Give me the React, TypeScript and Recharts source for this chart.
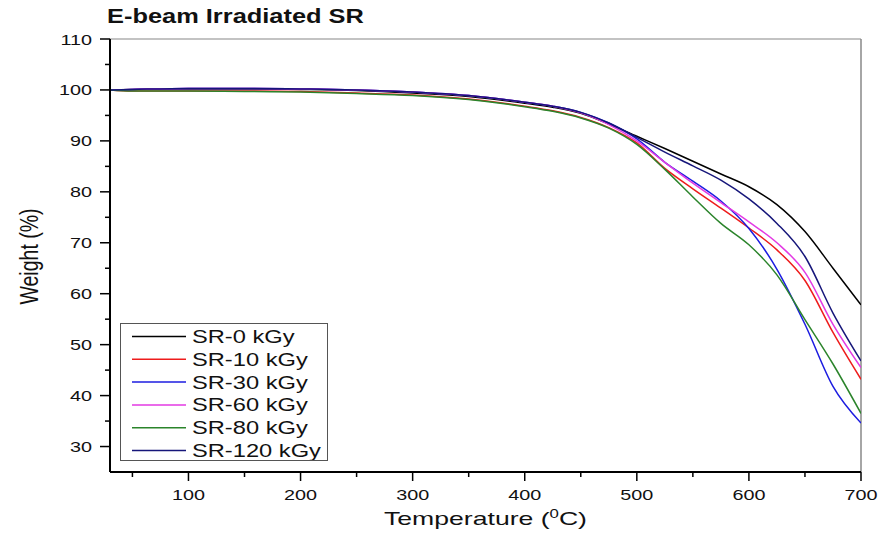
import { LineChart, Line, XAxis, YAxis, ReferenceLine, Legend } from 'recharts';

// temperature grid (°C)
const temps = [30, 50, 100, 150, 200, 250, 300, 350, 400, 425, 450, 475, 500, 525, 550, 575, 600, 625, 650, 675, 700];

// weight (%) for each dose
const sr0 = [100.0, 100.1, 100.2, 100.2, 100.1, 99.9, 99.4, 98.7, 97.4, 96.6, 95.4, 93.3, 90.9, 88.5, 86.0, 83.5, 81.0, 77.5, 72.2, 65.0, 57.8];
const sr10 = [100.0, 99.8, 99.8, 99.8, 99.7, 99.4, 99.0, 98.2, 96.8, 95.9, 94.6, 92.6, 89.6, 84.6, 80.6, 76.8, 72.9, 68.6, 62.6, 52.4, 43.2];
const sr30 = [100.0, 100.1, 100.3, 100.3, 100.2, 100.0, 99.6, 98.9, 97.6, 96.8, 95.6, 93.5, 90.4, 85.8, 82.1, 78.2, 72.8, 64.8, 54.0, 41.8, 34.6];
const sr60 = [100.0, 100.1, 100.3, 100.3, 100.2, 100.0, 99.6, 98.9, 97.6, 96.8, 95.5, 93.2, 90.0, 85.8, 81.7, 77.9, 74.1, 70.0, 64.2, 54.0, 45.5];
const sr80 = [100.0, 99.8, 99.8, 99.7, 99.6, 99.3, 98.9, 98.1, 96.7, 95.8, 94.5, 92.5, 89.3, 84.4, 79.0, 73.8, 69.6, 63.7, 54.9, 46.2, 36.5];
const sr120 = [100.0, 100.1, 100.3, 100.3, 100.2, 100.0, 99.6, 98.9, 97.6, 96.8, 95.6, 93.5, 90.7, 87.8, 85.1, 82.3, 78.6, 73.8, 67.3, 56.2, 46.8];

const seriesNames = ['SR-0 kGy', 'SR-10 kGy', 'SR-30 kGy', 'SR-60 kGy', 'SR-80 kGy', 'SR-120 kGy'];
const seriesKeys = ['sr0', 'sr10', 'sr30', 'sr60', 'sr80', 'sr120'];
const seriesColors = ['#000000', '#ee1c1c', '#1c1ce0', '#e33ae3', '#2b842b', '#16167a'];

const xTicks = [50, 100, 150, 200, 250, 300, 350, 400, 450, 500, 550, 600, 650, 700];
const yTicks = [30, 35, 40, 45, 50, 55, 60, 65, 70, 75, 80, 85, 90, 95, 100, 105, 110];

const data = temps.map((t, i) => ({
    t,
    sr0: sr0[i],
    sr10: sr10[i],
    sr30: sr30[i],
    sr60: sr60[i],
    sr80: sr80[i],
    sr120: sr120[i],
}));

const FONT = '"Liberation Sans", Arial, sans-serif';

const XTick = (props: any) => {
    const { x, y, payload } = props;
    const v = payload.value;
    const major = v % 100 === 0;
    return (
        <g>
            <line x1={x} x2={x} y1={y} y2={y + (major ? 9 : 5)} stroke="#000" strokeWidth={1.5} />
            {major && (
                <text transform={`translate(${x},${y + 27.5}) scale(1.32,1)`} textAnchor="middle" fontSize={15} fontFamily={FONT} fill="#111">
                    {v}
                </text>
            )}
        </g>
    );
};

const YTick = (props: any) => {
    const { x, y, payload } = props;
    const v = payload.value;
    const major = v % 10 === 0;
    return (
        <g>
            <line x1={x} x2={x - (major ? 10 : 5)} y1={y} y2={y} stroke="#000" strokeWidth={1.5} />
            {major && (
                <text transform={`translate(${x - 18},${y + 5.5}) scale(1.32,1)`} textAnchor="end" fontSize={15} fontFamily={FONT} fill="#111">
                    {v}
                </text>
            )}
        </g>
    );
};

const LegendBox = (props: any) => {
    const payload = [...(props.payload || [])].sort(
        (a: any, b: any) => seriesNames.indexOf(a.value) - seriesNames.indexOf(b.value)
    );
    return (
        <div style={{ width: 208, height: 138, border: '1px solid #555', boxSizing: 'border-box', background: '#fff' }}>
            <svg width={206} height={136}>
                {payload.map((p: any, i: number) => {
                    const cy = 12.5 + i * 22.8;
                    return (
                        <g key={p.value}>
                            <line x1={11} x2={65} y1={cy} y2={cy} stroke={p.color} strokeWidth={1.5} />
                            <text transform={`translate(71,${cy + 6.5}) scale(1.28,1)`} fontSize={18.5} fontFamily={FONT} fill="#111">
                                {p.value}
                            </text>
                        </g>
                    );
                })}
            </svg>
        </div>
    );
};

export default function App() {
    return (
        <div style={{ position: 'absolute', left: 0, top: 0, width: 884, height: 548, background: '#fff' }}>
            <LineChart width={884} height={548} data={data} margin={{ top: 39, right: 23, left: 50, bottom: 46 }}>
                <XAxis
                    dataKey="t"
                    type="number"
                    domain={[30, 700]}
                    ticks={xTicks}
                    interval={0}
                    height={30}
                    tickSize={0}
                    tickMargin={0}
                    tickLine={false}
                    tick={<XTick />}
                    axisLine={{ stroke: '#000', strokeWidth: 2 }}
                    allowDataOverflow
                />
                <YAxis
                    type="number"
                    domain={[25, 110]}
                    ticks={yTicks}
                    interval={0}
                    width={60}
                    tickSize={0}
                    tickMargin={0}
                    tickLine={false}
                    tick={<YTick />}
                    axisLine={{ stroke: '#000', strokeWidth: 2 }}
                    allowDataOverflow
                />
                <ReferenceLine y={110} stroke="#888" strokeWidth={1.2} />
                <ReferenceLine x={700} stroke="#888" strokeWidth={1.5} />
                {seriesKeys.map((k, i) => (
                    <Line
                        key={k}
                        type="monotone"
                        dataKey={k}
                        name={seriesNames[i]}
                        stroke={seriesColors[i]}
                        strokeWidth={1.5}
                        dot={false}
                        isAnimationActive={false}
                    />
                ))}
                <Legend
                    layout="vertical"
                    align="center"
                    verticalAlign="middle"
                    content={<LegendBox />}
                    wrapperStyle={{ position: 'absolute', left: 120, top: 323, width: 208, height: 138 }}
                />
            </LineChart>
            <svg width={884} height={548} style={{ position: 'absolute', left: 0, top: 0, pointerEvents: 'none' }}>
                <text transform="translate(107,23.3) scale(1.27,1)" fontSize={20} fontWeight="bold" fontFamily={FONT} fill="#111">
                    E-beam Irradiated SR
                </text>
                <text transform="translate(485.5,525) scale(1.4,1)" textAnchor="middle" fontSize={19} fontFamily={FONT} fill="#111">
                    Temperature (<tspan dy={-7} fontSize={12}>0</tspan>
                    <tspan dy={7}>C)</tspan>
                </text>
                <text transform="translate(38,256.5) scale(1.3,1) rotate(-90)" textAnchor="middle" fontSize={19.5} fontFamily={FONT} fill="#111">
                    Weight (%)
                </text>
            </svg>
        </div>
    );
}
